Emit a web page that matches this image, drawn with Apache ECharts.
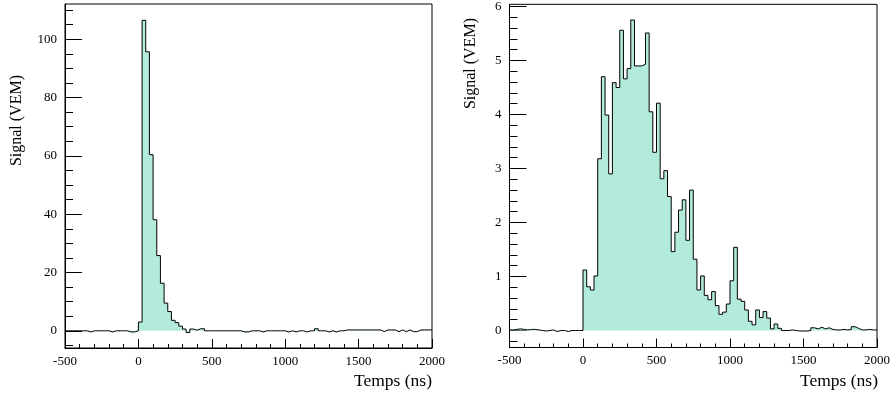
<!DOCTYPE html>
<html>
<head>
<meta charset="utf-8">
<script src="https://cdn.jsdelivr.net/npm/echarts@6/dist/echarts.min.js"></script>
<style>
html,body{margin:0;padding:0;background:#fff;}
#chart{width:893px;height:396px;}
</style>
</head>
<body>
<div id="chart"></div>
<script>
// Bin edges (ns), 25 ns bins from -500 to 2000
const binEdgesNs = [-500,-475,-450,-425,-400,-375,-350,-325,-300,-275,-250,-225,-200,-175,-150,-125,-100,-75,-50,-25,
  0,25,50,75,100,125,150,175,200,225,250,275,300,325,350,375,400,425,450,475,
  500,525,550,575,600,625,650,675,700,725,750,775,800,825,850,875,900,925,950,975,
  1000,1025,1050,1075,1100,1125,1150,1175,1200,1225,1250,1275,1300,1325,1350,1375,1400,1425,1450,1475,
  1500,1525,1550,1575,1600,1625,1650,1675,1700,1725,1750,1775,1800,1825,1850,1875,1900,1925,1950,1975,2000];

// Left trace: signal (VEM) per bin
const signalLeft = [
  0,0,0,0,0,0,-0.4,0,0,0,0,0,-0.4,0,0,0,0,-0.4,-0.4,0,
  3.0,106.5,95.7,60.4,38.1,25.8,16.3,9.5,6.6,3.6,2.8,1.6,0.6,-0.6,0.6,0.2,0.7,0.7,
  0,0,0,0,0,0,0,0,0,0,-0.4,-0.4,0,0,0,-0.4,0,0,0,0,0,0,-0.4,0,-0.4,0,0,-0.4,0,0,0.7,0,0,-0.4,0,-0.4,0,0,
  0.3,0.3,0.3,0.3,0.3,0.3,0.3,0.3,0.3,0.3,-0.3,0.3,0.3,0.3,-0.3,0.3,-0.3,0.3,-0.3,-0.3,0.3,0.3,0.3,0.3
];

// Right trace: signal (VEM) per bin
const signalRight = [
  0.01,0.02,0.03,0.02,0.01,0.02,0.02,0.01,0.0,-0.01,0.0,0.01,-0.02,0.0,0.0,-0.02,0.0,0.0,0.0,0.0,
  1.12,0.81,0.75,1.01,3.18,4.70,3.99,2.90,4.59,4.50,5.56,4.66,4.85,5.75,4.90,4.90,4.93,5.51,4.05,3.30,
  4.21,2.81,2.96,2.48,1.46,1.82,2.23,2.42,1.67,2.60,1.32,0.75,1.01,0.65,0.57,0.72,0.46,0.30,0.34,0.49,
  0.92,1.54,0.58,0.54,0.38,0.17,0.105,0.38,0.24,0.35,0.23,0.03,0.12,0.04,
  0.0,0.0,0.01,0.0,-0.01,-0.01,-0.01,0.0,0.05,0.03,0.06,0.03,0.05,0.02,0.01,0.01,0.02,0.01,0.02,0.07,0.04,0.01,0.01,0.02,0.01,0.01
];

const leftMajorTicks = [0, 20, 40, 60, 80, 100];
const leftMinorTicks = [-5,5,10,15,25,30,35,45,50,55,65,70,75,85,90,95,105,110];
const rightMajorTicks = [0, 1, 2, 3, 4, 5, 6];
const rightMinorTicks = [-0.2,0.2,0.4,0.6,0.8,1.2,1.4,1.6,1.8,2.2,2.4,2.6,2.8,3.2,3.4,3.6,3.8,4.2,4.4,4.6,4.8,5.2,5.4,5.6,5.8];
const xTitle = 'Temps (ns)';
const yTitle = 'Signal (VEM)';

const FONT = '"Liberation Serif", "Times New Roman", serif';
const FILL = '#b2ebdb';

function histData(values) {
  const d = values.map((v, i) => [binEdgesNs[i], v]);
  d.push([binEdgesNs[values.length], values[values.length - 1]]);
  return d;
}

function xAxisDef(gi) {
  return {
    gridIndex: gi, type: 'value', min: -500, max: 2000, interval: 500,
    axisLine: { show: true, onZero: false, lineStyle: { color: '#000', width: 1 } },
    axisTick: { show: true, inside: true, length: 9, lineStyle: { color: '#000' } },
    minorTick: { show: true, splitNumber: 5, length: 4, lineStyle: { color: '#000' } },
    splitLine: { show: false }, minorSplitLine: { show: false },
    axisLabel: { fontFamily: FONT, fontSize: 13, color: '#000', margin: 7, showMinLabel: true, showMaxLabel: true,
                 formatter: v => String(v) }
  };
}
function yAxisMajor(gi, min, max, ticks) {
  return {
    gridIndex: gi, type: 'value', min: min, max: max, position: 'left', offset: 0,
    axisLine: { show: true, onZero: false, lineStyle: { color: '#000', width: 1 } },
    axisTick: { show: true, inside: true, length: 17, customValues: ticks, lineStyle: { color: '#000' } },
    splitLine: { show: false },
    axisLabel: { customValues: ticks, fontFamily: FONT, fontSize: 13, color: '#000', margin: 8, formatter: v => String(v) }
  };
}
function yAxisMinor(gi, min, max, ticks) {
  return {
    gridIndex: gi, type: 'value', min: min, max: max, position: 'left', offset: 0,
    axisLine: { show: false, onZero: false },
    axisTick: { show: true, inside: true, length: 8, customValues: ticks, lineStyle: { color: '#000' } },
    splitLine: { show: false },
    axisLabel: { show: false }
  };
}
function series(xi, yi, values) {
  return {
    type: 'line', xAxisIndex: xi, yAxisIndex: yi, step: 'end', symbol: 'none',
    data: histData(values),
    lineStyle: { color: '#000', width: 1 },
    areaStyle: { color: FILL, opacity: 1, origin: 0 },
    silent: true
  };
}

const chart = echarts.init(document.getElementById('chart'), null, { renderer: 'canvas' });
chart.setOption({
  animation: false,
  backgroundColor: '#fff',
  grid: [
    { left: 65, top: 4, width: 367, height: 344, show: true, borderColor: '#000', borderWidth: 1 },
    { left: 509.5, top: 3.5, width: 369, height: 344, show: true, borderColor: '#000', borderWidth: 1 }
  ],
  xAxis: [xAxisDef(0), xAxisDef(1)],
  yAxis: [
    yAxisMajor(0, -5.9, 112.1, leftMajorTicks),
    yAxisMinor(0, -5.9, 112.1, leftMinorTicks),
    yAxisMajor(1, -0.315, 6.04, rightMajorTicks),
    yAxisMinor(1, -0.315, 6.04, rightMinorTicks)
  ],
  series: [series(0, 0, signalLeft), series(1, 2, signalRight)],
  graphic: [
    { type: 'text', x: 432, y: 381, style: { text: xTitle, font: '17.5px ' + FONT, fill: '#000', textAlign: 'right', textVerticalAlign: 'middle' } },
    { type: 'text', x: 878, y: 381, style: { text: xTitle, font: '17.5px ' + FONT, fill: '#000', textAlign: 'right', textVerticalAlign: 'middle' } },
    { type: 'text', x: 17, y: 75, rotation: Math.PI / 2, style: { text: yTitle, font: '16px ' + FONT, fill: '#000', textAlign: 'right', textVerticalAlign: 'middle' } },
    { type: 'text', x: 471, y: 18, rotation: Math.PI / 2, style: { text: yTitle, font: '16px ' + FONT, fill: '#000', textAlign: 'right', textVerticalAlign: 'middle' } }
  ]
});
</script>
</body>
</html>
